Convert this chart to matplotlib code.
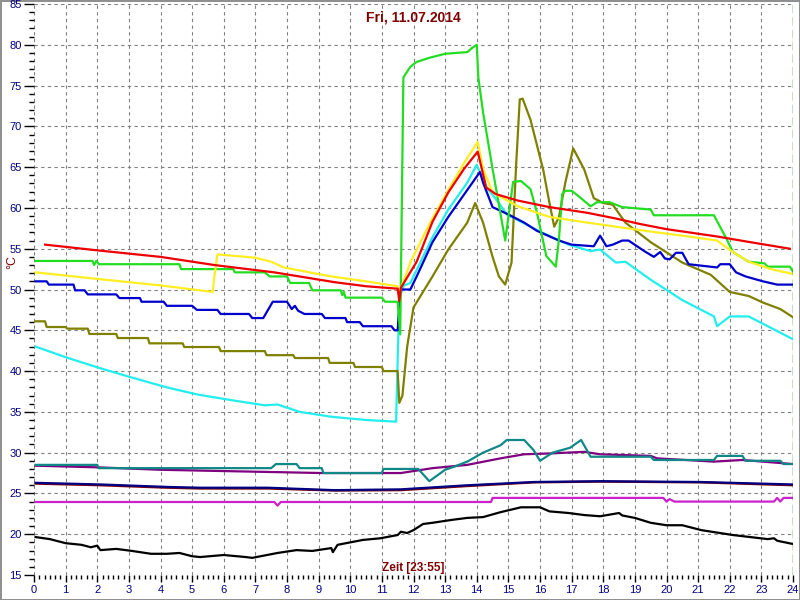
import numpy as np
from matplotlib import pyplot as plt

plt.rcParams['font.family'] = ['Liberation Sans', 'DejaVu Sans']

title = 'Fri, 11.07.2014'
xlabel = 'Zeit [23:55]'
ylabel = '°C'

red_x = [0.35, 2, 4, 5.7, 7.6, 9.5, 10.5, 11.5, 11.55, 11.6, 12.1, 12.6, 13.1, 13.6, 14.03,
         14.3, 14.6, 15.3, 16.3, 17.5, 18.4, 19.2, 20.0, 21.6, 22.5, 23.9]
red_y = [55.5, 54.8, 54.0, 53.0, 52.1, 50.9, 50.4, 50.1, 48.6, 50.2, 53.4, 58.3, 61.9, 64.8, 66.9,
         62.5, 61.7, 60.9, 60.1, 59.4, 58.7, 58.0, 57.4, 56.5, 55.9, 55.0]

yellow_x = [0.05, 2, 4, 5.65, 5.7, 5.8, 7.0, 7.5, 7.9, 9.4, 10.5, 11.5, 11.55, 11.9, 12.5, 13.1,
            13.6, 14.03, 14.2, 14.5, 15.3, 16.3, 17.5, 18.4, 19.5, 20.5, 21.6, 22.1, 22.6, 23.3, 24]
yellow_y = [52.1, 51.3, 50.5, 49.7, 51.5, 54.3, 53.9, 53.4, 52.7, 51.6, 51.0, 50.4, 49.6, 53.3, 58.0, 62.2,
            65.5, 68.1, 64.8, 61.9, 60.2, 58.9, 58.2, 57.7, 57.1, 56.6, 56.0, 54.6, 53.4, 52.5, 51.9]

green_x = [0.05, 1.85, 1.9, 1.97, 2.05, 4.6, 4.65, 6.3, 6.35, 7.3, 7.45, 8.0, 8.1, 8.7, 8.8, 9.7,
           9.75, 9.8, 9.85, 11.0, 11.1, 11.5, 11.58, 11.68, 11.9, 12.1, 12.5, 13.0, 13.7, 13.85, 14.0,
           14.05, 14.2, 14.5, 14.9, 15.15, 15.4, 15.7, 15.9, 16.2, 16.5, 16.6, 16.7, 16.8, 17.0, 17.2,
           17.6, 17.8, 18.2, 18.6, 19.5, 19.6, 21.5, 21.9, 22.1, 22.6, 23.1, 23.2, 23.9, 24.0]
green_y = [53.5, 53.5, 53.0, 53.5, 53.1, 53.1, 52.5, 52.5, 52.1, 52.1, 51.6, 51.6, 50.8, 50.8, 49.9, 49.9,
           49.3, 49.7, 49.0, 49.0, 48.5, 48.5, 44.5, 76.0, 77.3, 77.9, 78.4, 78.9, 79.1, 79.6, 80.0,
           76.0, 71.7, 64.8, 56.0, 63.2, 63.3, 62.3, 59.5, 54.1, 52.8, 56.2, 61.7, 62.1, 62.1, 61.5,
           60.2, 60.7, 60.7, 60.1, 59.8, 59.1, 59.1, 56.2, 54.6, 53.4, 53.2, 52.8, 52.8, 52.2]

blue_x = [0.05, 0.4, 0.47, 1.25, 1.3, 1.6, 1.7, 2.6, 2.7, 3.35, 3.4, 4.1, 4.2, 5.0, 5.15, 5.8, 5.9,
          6.8, 6.9, 7.25, 7.55, 8.0, 8.15, 8.25, 8.35, 8.55, 9.1, 9.2, 9.85, 9.9, 10.3, 10.4, 11.3,
          11.4, 11.5, 11.55, 11.6, 11.9, 12.1, 12.6, 13.1, 13.7, 14.1, 14.2, 14.5, 15.0, 15.5, 15.9,
          16.6, 17.0, 17.7, 17.9, 18.1, 18.3, 18.6, 18.8, 19.3, 19.6, 19.8, 19.95, 20.1, 20.3, 20.5,
          20.7, 21.6, 21.7, 22.0, 22.2, 22.5, 23.05, 23.5, 24.0]
blue_y = [51.0, 51.0, 50.6, 50.6, 49.9, 49.9, 49.4, 49.4, 48.95, 48.95, 48.5, 48.5, 48.0, 48.0, 47.5,
          47.5, 47.0, 47.0, 46.5, 46.5, 48.5, 48.5, 47.6, 48.0, 47.4, 47.0, 47.0, 46.5, 46.5, 46.0,
          46.0, 45.5, 45.5, 45.0, 45.0, 48.0, 50.0, 50.0, 51.6, 55.8, 58.9, 62.2, 64.4, 63.1, 60.1,
          59.2, 58.2, 57.2, 56.0, 55.5, 55.3, 56.6, 55.3, 55.5, 56.0, 56.0, 54.7, 54.0, 54.6, 53.8,
          53.7, 54.5, 54.5, 53.1, 52.7, 53.1, 53.1, 52.1, 51.6, 51.0, 50.6, 50.6]

cyan_x = [0.05, 1.0, 2.05, 3.1, 4.2, 5.2, 6.3, 7.3, 7.7, 8.4, 9.4, 10.5, 11.45, 11.55, 11.7, 11.9,
          12.6, 13.1, 13.7, 14.0, 14.3, 14.7, 14.95, 16.0, 16.9, 17.6, 17.9, 18.4, 18.7, 19.5, 20.5,
          21.5, 21.6, 22.0, 22.6, 23.2, 24.0]
cyan_y = [43.0, 41.7, 40.4, 39.2, 38.0, 37.1, 36.4, 35.8, 35.9, 35.0, 34.4, 34.0, 33.8, 49.0, 50.5, 50.8,
          56.4, 59.8, 63.1, 65.3, 62.6, 60.6, 59.2, 57.1, 55.5, 54.7, 54.9, 53.3, 53.4, 51.2, 48.7,
          46.7, 45.5, 46.7, 46.7, 45.5, 43.9]

olive_x = [0.05, 0.35, 0.4, 1.0, 1.05, 1.7, 1.75, 2.6, 2.65, 3.6, 3.65, 4.7, 4.75, 5.85, 5.9, 7.3,
           7.35, 8.2, 8.25, 9.3, 9.35, 10.1, 10.15, 11.0, 11.05, 11.5, 11.55, 11.65, 11.8, 12.0, 12.6,
           13.1, 13.7, 13.95, 14.2, 14.5, 14.7, 14.9, 15.1, 15.25, 15.36, 15.45, 15.7, 16.1, 16.3,
           16.45, 16.6, 16.8, 17.05, 17.4, 17.7, 18.0, 18.3, 18.7, 19.5, 20.5, 21.4, 22.0, 22.6, 23.05,
           23.6, 24.0]
olive_y = [46.1, 46.1, 45.4, 45.4, 45.2, 45.2, 44.55, 44.55, 44.05, 44.05, 43.4, 43.4, 42.95, 42.95,
           42.45, 42.45, 41.95, 41.95, 41.6, 41.6, 41.0, 41.0, 40.5, 40.5, 40.0, 40.0, 36.1, 37.0, 43.0,
           47.8, 51.6, 54.9, 58.2, 60.6, 58.2, 54.0, 51.6, 50.6, 53.3, 65.6, 73.3, 73.4, 70.8, 64.7,
           60.6, 57.7, 58.9, 63.1, 67.3, 64.7, 61.2, 60.6, 60.4, 58.2, 55.8, 53.3, 51.8, 49.7, 49.2,
           48.4, 47.6, 46.6]

teal_x = [0.05, 2.0, 2.05, 7.5, 7.65, 8.3, 8.4, 9.1, 9.15, 11.0, 11.05, 12.15, 12.5, 13.0, 13.3, 13.7,
          14.2, 14.75, 14.95, 15.5, 15.8, 16.0, 16.4, 16.95, 17.3, 17.6, 19.5, 19.6, 21.5, 21.6, 22.4,
          22.5, 23.6, 23.7, 24.0]
teal_y = [28.5, 28.5, 28.1, 28.1, 28.6, 28.6, 28.1, 28.1, 27.5, 27.5, 28.0, 28.0, 26.5, 27.9, 28.3, 28.9,
          30.0, 30.9, 31.55, 31.55, 30.3, 29.0, 30.0, 30.6, 31.55, 29.5, 29.5, 29.1, 29.1, 29.6, 29.6,
          29.0, 29.0, 28.6, 28.6]

purple_x = [0.05, 2, 4, 5.25, 9.1, 11.6, 12.6, 13.7, 14.75, 15.5, 16.3, 17.4, 17.9, 19.5, 19.7, 21.5,
            22.4, 24.0]
purple_y = [28.4, 28.2, 27.9, 27.8, 27.5, 27.5, 28.1, 28.5, 29.3, 29.8, 29.9, 30.1, 29.8, 29.6, 29.3,
            28.9, 29.1, 28.6]

navy_x = [0.05, 2.1, 4.2, 5.25, 7.4, 9.5, 11.6, 13.7, 15.8, 17.9, 21.1, 24]
navy_y = [26.3, 26.1, 25.8, 25.7, 25.7, 25.4, 25.5, 26.0, 26.4, 26.5, 26.4, 26.1]
maroon_y = [26.2, 26.0, 25.7, 25.6, 25.6, 25.35, 25.4, 25.9, 26.35, 26.45, 26.35, 26.0]

magenta_x = [0.05, 7.6, 7.7, 7.8, 14.45, 14.5, 19.9, 20.0, 20.1, 20.25, 23.4, 23.5, 23.6, 23.7, 24.0]
magenta_y = [23.95, 23.95, 23.5, 23.95, 23.95, 24.45, 24.45, 24.0, 24.3, 24.0, 24.0, 24.45, 24.0, 24.45,
             24.45]

black_x = [0.05, 0.5, 1.0, 1.5, 1.8, 2.0, 2.1, 2.6, 3.1, 3.7, 4.2, 4.6, 5.0, 5.25, 6.0, 6.7, 6.9,
           7.7, 8.3, 8.8, 9.4, 9.45, 9.6, 10.4, 10.95, 11.5, 11.6, 11.8, 12.0, 12.3, 12.6, 13.2, 13.7,
           14.2, 14.75, 15.4, 16.0, 16.3, 16.9, 17.4, 17.9, 18.5, 18.6, 19.0, 19.5, 20.0, 20.5, 21.1,
           22.1, 23.2, 23.4, 23.5, 24.0]
black_y = [19.65, 19.4, 18.9, 18.7, 18.4, 18.6, 18.05, 18.2, 17.95, 17.6, 17.6, 17.7, 17.3, 17.2, 17.45,
           17.2, 17.1, 17.7, 18.05, 17.95, 18.3, 17.8, 18.7, 19.3, 19.5, 19.9, 20.3, 20.15, 20.5, 21.25,
           21.4, 21.75, 22.0, 22.1, 22.7, 23.3, 23.3, 22.8, 22.6, 22.35, 22.2, 22.6, 22.3, 22.0, 21.4,
           21.1, 21.1, 20.5, 19.9, 19.4, 19.5, 19.2, 18.8]

series = [
    (black_x, black_y, 'black'),
    (magenta_x, magenta_y, '#cc22cc'),
    (navy_x, maroon_y, '#800000'),
    (navy_x, navy_y, '#000080'),
    (purple_x, purple_y, '#800080'),
    (teal_x, teal_y, '#108888'),
    (cyan_x, cyan_y, '#22eeee'),
    (olive_x, olive_y, '#808000'),
    (blue_x, blue_y, '#0000cc'),
    (green_x, green_y, '#22dd22'),
    (yellow_x, yellow_y, '#ffee22'),
    (red_x, red_y, '#ee0000'),
]

fig = plt.figure(figsize=(8, 6), dpi=100)
fig.patch.set_edgecolor('#909090')
fig.patch.set_linewidth(2)
ax = fig.add_axes([34 / 800., 25 / 600., 759 / 800., 571 / 600.])

for x, y, c in series:
    ax.plot(x, y, color=c, lw=1.6)

# current-time marker
ax.axvline(24, color='#006400', lw=1, dashes=(6, 3))

ax.set_xlim(0, 24)
ax.set_ylim(15, 85)
ax.set_xticks(np.arange(0, 25, 1))
ax.set_xticks(np.arange(0, 24.01, 1 / 6.), minor=True)
ax.set_yticks(np.arange(15, 86, 5))
ax.set_yticks(np.arange(15, 86, 1), minor=True)
for s in ax.spines.values():
    s.set_visible(False)
ax.grid(True, which='major', color='#808080', lw=0.8, dashes=(3, 3))
ax.tick_params(which='major', length=7, width=1, labelsize=8, labelcolor='#000080', pad=2)
ax.tick_params(which='minor', length=3.5, width=1)
ax.tick_params(axis='x', which='major', length=5)
ax.tick_params(axis='x', which='minor', length=3)

ax.text(0.5, 0.977, title, transform=ax.transAxes, ha='center', va='center',
        color='#800000', fontweight='bold', fontsize=10)
ax.text(0.5, 0.012, xlabel, transform=ax.transAxes, ha='center', va='center',
        color='#800000', fontweight='bold', fontsize=8.5)
fig.text(12 / 800., 1 - 262 / 600., ylabel, rotation=90, ha='center', va='center',
         color='#800000', fontsize=9)

fig.savefig('out.png', dpi=100)
